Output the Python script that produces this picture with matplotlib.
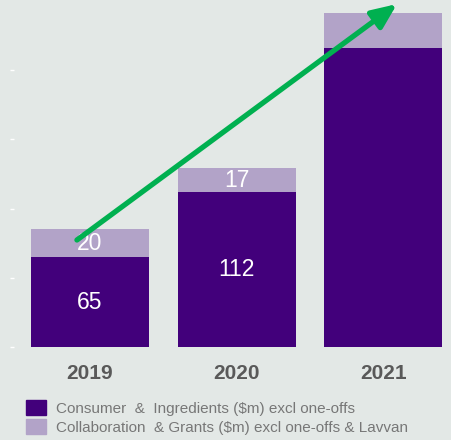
import matplotlib.pyplot as plt
from matplotlib.patches import Patch

plt.rcParams['font.family'] = ['Liberation Sans', 'DejaVu Sans']

# Revenue split by year ($m)
years = ['2019', '2020', '2021']
consumer = [65, 112, 216]
collab = [20, 17, 25]
consumer_labels = ['65', '112', '']
collab_labels = ['20', '17', '']

bg = '#E3E8E6'
dark = '#42007B'
light = '#B2A3C8'

fig = plt.figure(figsize=(4.51, 4.40), dpi=100, facecolor=bg)
ax = fig.add_axes([10 / 451, 1 - 347 / 440, 441 / 451, 347 / 440])
ax.set_facecolor(bg)

x = range(len(years))
b1 = ax.bar(x, consumer, width=0.805, color=dark)
b2 = ax.bar(x, collab, width=0.805, bottom=consumer, color=light)

ax.bar_label(b1, labels=consumer_labels, label_type='center',
             color='white', fontsize=16.5)
ax.bar_label(b2, labels=collab_labels, label_type='center',
             color='white', fontsize=16.5)

ax.set_xlim(-0.5453, 2.461)
ax.set_ylim(0, 250.7)
ax.set_xticks(list(x))
ax.set_xticklabels(years, fontsize=15, fontweight='bold', color='#595959')
ax.tick_params(axis='x', length=0, pad=12)
ax.set_yticks([0, 50, 100, 150, 200])
ax.set_yticklabels([])
ax.tick_params(axis='y', direction='in', length=3, width=1, color='white')
for s in ax.spines.values():
    s.set_visible(False)

# growth arrow
ax.annotate('', xy=(2.093, 247.8), xytext=(-0.089, 77.3),
            arrowprops=dict(arrowstyle='-|>,head_length=1.5,head_width=0.65',
                            color='#00B050', lw=3.8, shrinkA=0, shrinkB=0),
            annotation_clip=False)

handles = [Patch(color=dark), Patch(color=light)]
labels = ['Consumer  &  Ingredients ($m) excl one-offs',
          'Collaboration  & Grants ($m) excl one-offs & Lavvan']
fig.legend(handles, labels, loc='upper left', bbox_to_anchor=(26 / 451, 1 - 400 / 440),
           frameon=False, fontsize=11, labelcolor='#777777',
           handlelength=1.3, handleheight=1.15, handletextpad=0.65,
           labelspacing=0.2, borderpad=0, borderaxespad=0)

fig.savefig('out.png', dpi=100, facecolor=bg)
